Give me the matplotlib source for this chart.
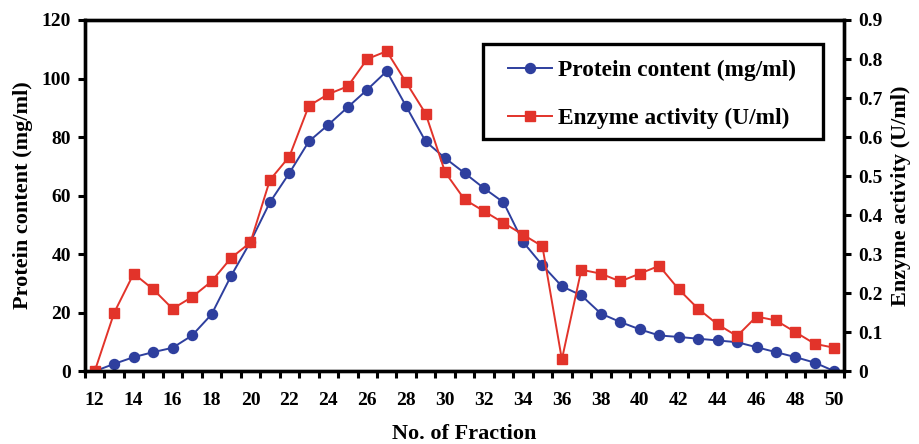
import numpy as np
import matplotlib
matplotlib.use('Agg')
import matplotlib.pyplot as plt
from matplotlib.patches import Rectangle
from matplotlib.ticker import MultipleLocator, FixedLocator

plt.rcParams['font.family'] = 'Liberation Serif'
plt.rcParams['font.weight'] = 'bold'

# Fraction numbers
fractions = list(range(12, 51))

# Protein content (mg/ml), left axis
protein = [0, 2.5, 4.8, 6.5, 8, 12.2, 19.4, 32.5, 44.2, 57.7,
           67.7, 78.5, 84.2, 90.2, 96.2, 102.5, 90.5, 78.5, 72.8, 67.7,
           62.5, 57.7, 44.2, 36.2, 29, 25.9, 19.7, 16.8, 14.3, 12.2,
           11.7, 11.1, 10.5, 9.9, 8.2, 6.5, 4.8, 2.9, 0]

# Enzyme activity (U/ml), right axis
enzyme = [0, 0.15, 0.25, 0.21, 0.16, 0.19, 0.23, 0.29, 0.33, 0.49,
          0.55, 0.68, 0.71, 0.73, 0.80, 0.82, 0.74, 0.66, 0.51, 0.44,
          0.41, 0.38, 0.35, 0.32, 0.03, 0.26, 0.25, 0.23, 0.25, 0.27,
          0.21, 0.16, 0.12, 0.09, 0.14, 0.13, 0.10, 0.07, 0.06]

x_labels = list(range(12, 51, 2))
right_ticks = [0, 0.1, 0.2, 0.3, 0.4, 0.5, 0.6, 0.7, 0.8, 0.9]

blue = '#2E3F9E'
red = '#E2332A'

fig = plt.figure(figsize=(9.19, 4.44), dpi=100)
ax = fig.add_axes([0.0925, 0.164, 0.826, 0.791])
ax2 = ax.twinx()

l1, = ax.plot(fractions, protein, color=blue, lw=1.4, marker='o', ms=7.2,
              label='Protein content (mg/ml)')
l2, = ax2.plot(fractions, enzyme, color=red, lw=1.4, marker='s', ms=7.5,
               label='Enzyme activity (U/ml)')

ax.set_xlim(11.5, 50.5)
ax.set_ylim(0, 120)
ax2.set_ylim(0, 0.9)

ax.xaxis.set_major_locator(FixedLocator(x_labels))
ax.xaxis.set_minor_locator(MultipleLocator(1, offset=0.5))
ax.set_xticklabels([str(v) for v in x_labels])
ax.tick_params(axis='x', which='major', length=0, pad=15, labelsize=14)
ax.tick_params(axis='x', which='minor', length=5, width=2.2, direction='out')

ax.yaxis.set_major_locator(MultipleLocator(20))
ax.tick_params(axis='y', length=5, width=2.2, direction='out', labelsize=14, pad=5)
ax2.yaxis.set_major_locator(FixedLocator(right_ticks))
ax2.set_yticklabels(['0'] + ['%.1f' % v for v in right_ticks[1:]])
ax2.tick_params(axis='y', length=5, width=2.2, direction='out', labelsize=14, pad=5)

for a in (ax, ax2):
    for s in a.spines.values():
        s.set_linewidth(2.4)

ax.set_xlabel('No. of Fraction', fontsize=16, fontweight='bold', labelpad=11)
ax.set_ylabel('Protein content (mg/ml)', fontsize=16, fontweight='bold', labelpad=6)
ax2.set_ylabel('Enzyme activity (U/ml)', fontsize=16, fontweight='bold', labelpad=6)

# legend without its own frame, boxed by a rectangle with wider side padding
leg = ax2.legend(handles=[l1, l2], loc='upper left', bbox_to_anchor=(0.5528, 0.865),
                 bbox_transform=fig.transFigure, borderaxespad=0, borderpad=0,
                 fontsize=16.8, frameon=False, labelspacing=1.15, handlelength=1.9,
                 handletextpad=0.25)
for t in leg.get_texts():
    t.set_fontweight('bold')

box = Rectangle((0.5256, 0.6869), 0.370, 0.214, transform=fig.transFigure,
                fill=False, edgecolor='black', linewidth=2.4, zorder=10)
fig.patches.append(box)

fig.savefig('out.png', dpi=100)
